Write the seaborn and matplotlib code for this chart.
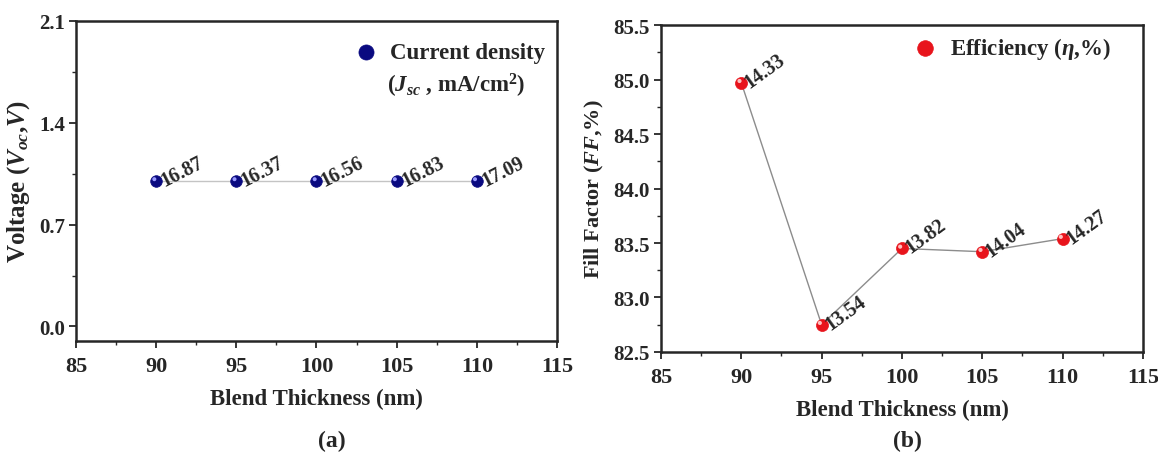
import matplotlib
matplotlib.use("Agg")
import matplotlib.pyplot as plt
import matplotlib.transforms as mtransforms
from matplotlib.ticker import MultipleLocator, FormatStrFormatter
import seaborn as sns
import pandas as pd

thickness = [90, 95, 100, 105, 110]
voltage = [1.0, 1.0, 1.0, 1.0, 1.0]
jsc_labels = ["16.87", "16.37", "16.56", "16.83", "17.09"]
fill_factor = [84.97, 82.75, 83.45, 83.42, 83.54]
eff_labels = ["14.33", "13.54", "13.82", "14.04", "14.27"]

sns.set_theme(style="ticks")
plt.rcParams['font.family'] = ['Liberation Serif', 'DejaVu Serif']
plt.rcParams['font.weight'] = 'bold'
plt.rcParams['mathtext.fontset'] = 'custom'
plt.rcParams['mathtext.rm'] = 'Liberation Serif:bold'
plt.rcParams['mathtext.bf'] = 'Liberation Serif:bold'
plt.rcParams['mathtext.it'] = 'Liberation Serif:bold:italic'
plt.rcParams['axes.linewidth'] = 1.8

fig = plt.figure(figsize=(11.58, 4.56), dpi=100)
ax1 = fig.add_axes([0.0656, 0.25, 0.4154, 0.7018])
ax2 = fig.add_axes([0.5708, 0.2259, 0.4162, 0.717])

df1 = pd.DataFrame({"x": thickness, "y": voltage})
df2 = pd.DataFrame({"x": thickness, "y": fill_factor})


def sphere(ax, df, color, light, line_color, label, size):
    sns.lineplot(data=df, x="x", y="y", ax=ax, color=line_color, lw=1.0, zorder=1)
    sns.scatterplot(data=df, x="x", y="y", ax=ax, color=color, s=size,
                    edgecolor=color, linewidth=0.5, zorder=3, label=label)
    off = mtransforms.ScaledTranslation(-1.3 / 72, 1.3 / 72, fig.dpi_scale_trans)
    sns.scatterplot(data=df, x="x", y="y", ax=ax, color=light, s=size * 0.12,
                    edgecolor="none", zorder=4, transform=ax.transData + off,
                    legend=False)


sphere(ax1, df1, "#0a0a80", "#9a9aff", "#c4c4c4", "Current density", 70)
sphere(ax2, df2, "#e8141c", "#ffc0c0", "#8c8c8c", r"Efficiency ($\eta$,%)", 75)

for x, y, t in zip(thickness, voltage, jsc_labels):
    ax1.annotate(t, (x, y), xytext=(6, -3.5), textcoords="offset points",
                 rotation=27, fontsize=14.5, fontweight="bold", ha="left",
                 va="baseline", rotation_mode="anchor")
for x, y, t in zip(thickness, fill_factor, eff_labels):
    ax2.annotate(t, (x, y), xytext=(6, -3.5), textcoords="offset points",
                 rotation=36, fontsize=14.5, fontweight="bold", ha="left",
                 va="baseline", rotation_mode="anchor")

ax1.set_xlim(85, 115)
ax1.set_ylim(-0.1, 2.1)
ax1.set_yticks([0.0, 0.7, 1.4, 2.1])
ax1.yaxis.set_minor_locator(MultipleLocator(0.35))
ax2.set_xlim(85, 115)
ax2.set_ylim(82.5, 85.5)
ax2.yaxis.set_major_locator(MultipleLocator(0.5))
ax2.yaxis.set_minor_locator(MultipleLocator(0.25))

for ax in (ax1, ax2):
    ax.xaxis.set_major_locator(MultipleLocator(5))
    ax.xaxis.set_minor_locator(MultipleLocator(2.5))
    ax.tick_params(which="major", length=5, width=1.3)
    ax.tick_params(which="minor", length=3, width=1.0)
    ax.tick_params(axis="x", which="major", labelsize=16, pad=6)
    ax.tick_params(axis="y", which="major", labelsize=15, pad=3)
    for lbl in ax.get_xticklabels() + ax.get_yticklabels():
        lbl.set_fontweight("bold")
    for s in ax.spines.values():
        s.set_visible(True)
    ax.yaxis.set_major_formatter(FormatStrFormatter("%.1f"))
    ax.set_xlabel("Blend Thickness (nm)", fontsize=16.5, fontweight="bold",
                  labelpad=8)

ax1.set_ylabel("Voltage ($V_{oc}$,$V$)", fontsize=18, fontweight="bold", labelpad=5)
ax2.set_ylabel("Fill Factor $(FF$,%)", fontsize=16, fontweight="bold", labelpad=5)

leg1 = ax1.legend(loc="upper left", frameon=False, fontsize=16.5, markerscale=1.3,
                  handletextpad=0.05, borderaxespad=0.0, borderpad=0.0,
                  bbox_to_anchor=(0.556, 0.933))
leg2 = ax2.legend(loc="upper left", frameon=False, fontsize=16.5, markerscale=1.3,
                  handletextpad=0.1, borderaxespad=0.0, borderpad=0.0,
                  bbox_to_anchor=(0.50, 0.969))
for leg in (leg1, leg2):
    for t in leg.get_texts():
        t.set_fontweight("bold")

ax1.text(0.647, 0.80, "($J_{sc}$ , mA/cm$^2$)", transform=ax1.transAxes,
         fontsize=16.5, fontweight="bold", ha="left", va="center")

fig.text(332 / 1158, 0.02, "(a)", fontsize=17, fontweight="bold", ha="center")
fig.text(907 / 1158, 0.02, "(b)", fontsize=17, fontweight="bold", ha="center")

fig.savefig("out.png", dpi=100, facecolor="white")
